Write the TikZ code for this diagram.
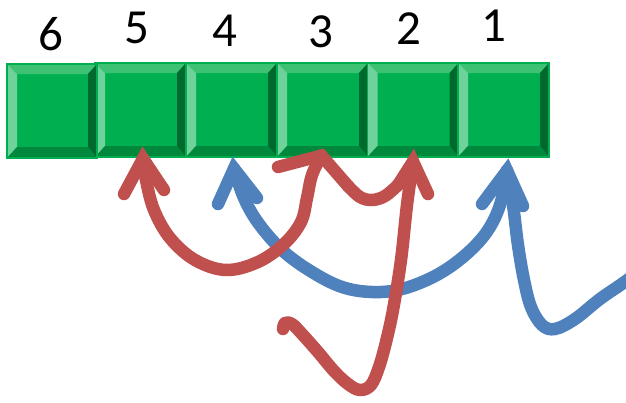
\documentclass[tikz,border=0pt]{standalone}
\usepackage{fontspec}
\setmainfont{Carlito}
\definecolor{keymid}{HTML}{00B050}
\definecolor{keytop}{HTML}{3DC273}
\definecolor{keyleft}{HTML}{6DD39A}
\definecolor{keyright}{HTML}{006A2E}
\definecolor{keybot}{HTML}{00893D}
\definecolor{keyedge}{HTML}{00AE4F}
\definecolor{arrowred}{HTML}{C0504D}
\definecolor{arrowblue}{HTML}{4F81BD}
\tikzset{
  keycap/.style={rectangle, inner sep=0pt, minimum width=91pt, minimum height=94pt,
    fill=keymid, draw=keyedge, line width=1.2pt,
    path picture={
      \coordinate (nw) at (path picture bounding box.north west);
      \coordinate (ne) at (path picture bounding box.north east);
      \coordinate (sw) at (path picture bounding box.south west);
      \coordinate (se) at (path picture bounding box.south east);
      \fill[keytop] (nw) -- (ne) -- ([xshift=-9pt,yshift=-10pt]ne) -- ([xshift=10pt,yshift=-10pt]nw) -- cycle;
      \fill[keyleft] (nw) -- (sw) -- ([xshift=10pt,yshift=11pt]sw) -- ([xshift=10pt,yshift=-10pt]nw) -- cycle;
      \fill[keyright] (ne) -- (se) -- ([xshift=-9pt,yshift=11pt]se) -- ([xshift=-9pt,yshift=-10pt]ne) -- cycle;
      \fill[keybot] (sw) -- (se) -- ([xshift=-9pt,yshift=11pt]se) -- ([xshift=10pt,yshift=11pt]sw) -- cycle;
    }},
  digit/.style={inner sep=0pt, font=\fontsize{49}{52}\selectfont},
  stroke/.style={line width=12.5pt, line cap=round, line join=round},
  barbs/.style={line width=12.5pt, line cap=round, line join=miter, miter limit=10},
}
\begin{document}
\begin{tikzpicture}[x=1pt,y=-1pt]
\useasboundingbox (0,0) rectangle (626,402);
\clip (0,0) rectangle (626,402);

% row of keys
\node[keycap] (k5) at (140.5,110) {};
\node[keycap] (k4) at (231.5,110) {};
\node[keycap] (k3) at (322.5,110) {};
\node[keycap] (k2) at (413,110) {};
\node[keycap] (k1) at (503.5,110) {};
\node[keycap, minimum width=90pt] (k6) at (52,111) {};

% key numbers
\node[digit] (n6) at (51,34) {6};
\node[digit] (n5) at (137,27.5) {5};
\node[digit] (n4) at (225,31) {4};
\node[digit] (n3) at (321,32) {3};
\node[digit] (n2) at (409,29) {2};
\node[digit] (n1) at (494,26) {1};

% arrow tips under the keys
\coordinate (t5) at ([xshift=2.5pt,yshift=-1pt]k5.south);
\coordinate (t4) at ([xshift=2.5pt,yshift=-11pt]k4.south);
\coordinate (t3) at ([xshift=-1pt,yshift=2pt]k3.south);
\coordinate (t2) at ([yshift=-4pt]k2.south);
\coordinate (t1) at ([xshift=3.5pt,yshift=-13pt]k1.south);

% blue strokes
\draw[stroke, arrowblue] plot[smooth, tension=0.6] coordinates {(t4) (244,198) (259,224) (283,251) (312,272) (342,287) (372,292) (402,289) (435,276) (463,257) (486,233) (500,205) (t1)};
\draw[barbs, arrowblue] (218,204) -- (t4) -- (257,198);
\draw[stroke, arrowblue] plot[smooth, tension=0.6] coordinates {(t1) (513,205) (518,245) (524,280) (531,307) (542,325) (555,329) (575,319) (600,299) (626,281) (645,266)};
\draw[barbs, arrowblue] (482,204) -- (t1) -- (523,206);

% red strokes
\draw[stroke, arrowred] plot[smooth, tension=0.6] coordinates {(t5) (146,180) (154,210) (170,238) (195,260) (226,270) (258,262) (284,244) (301,222) (307,198) (312,175) (t3)};
\draw[barbs, arrowred] (124,194) -- (t5) -- (164,190);
\draw[barbs, arrowred] (278,167) -- (t3) -- (348,186);
\draw[stroke, arrowred] plot[smooth, tension=0.6] coordinates {(348,186) (360,197) (372,200) (385,196) (398,185)};
\draw[barbs, arrowred] (398,185) -- (t2) -- (428,194);
\draw[stroke, arrowred] plot[smooth, tension=0.6] coordinates {(283,329) (285,323) (292,324) (302,334) (318,352) (334,371) (348,384) (360,390) (371,385) (379,367) (386,342) (393,310) (401,260) (407,205) (t2)};
\end{tikzpicture}
\end{document}
